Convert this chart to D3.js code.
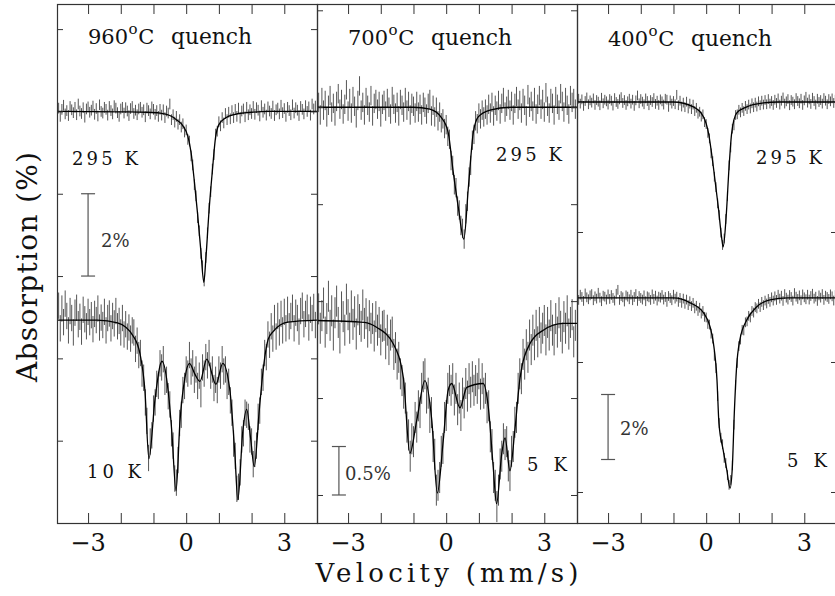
<!DOCTYPE html>
<html><head><meta charset="utf-8">
<script src="https://cdn.jsdelivr.net/npm/d3@7/dist/d3.min.js"></script>
<style>html,body{margin:0;padding:0;background:#fff;}svg{display:block;}</style>
</head><body>
<svg id="chart" width="835" height="596"></svg>
<script>
// ================= DATA =================
const quenchTemperatures = ["960", "700", "400"];
const measureLabels = [["295 K", "10 K"], ["295 K", "5 K"], ["295 K", "5 K"]];
const velocityTicks = [-3, -2, -1, 0, 1, 2, 3];
const velocityLabelTicks = [-3, 0, 3];
const scaleBarPercents = [2, 0.5, 2];
const scaleBarLabels = ["2%", "0.5%", "2%"];
const channelStart = -3.9, channelStep = 0.05;   // velocity channels (mm/s)

// 960 C quench, 295 K
const fit960RT = [[-3.95,0],[-2,-0.01],[-1.2,-0.02],[-0.8,-0.04],[-0.5,-0.1],[-0.3,-0.2],[-0.1,-0.35],[0.05,-0.6],[0.15,-1.0],[0.25,-1.7],[0.35,-2.5],[0.45,-3.4],[0.54,-4.15],[0.6,-3.6],[0.7,-2.4],[0.8,-1.45],[0.9,-0.62],[1.0,-0.32],[1.2,-0.16],[1.5,-0.07],[2,-0.02],[2.5,0],[4,0]];
const data960RT = [
0.08,-0.12,0.05,0.15,-0.06,0.02,-0.10,0.12,0.04,-0.03,
0.10,-0.08,0.18,0.01,-0.05,0.09,-0.14,0.06,0.11,-0.02,
0.03,0.13,-0.07,0.07,-0.11,0.16,0.00,-0.04,0.10,0.05,
-0.09,0.12,0.02,-0.06,0.14,0.08,-0.03,-0.12,0.06,0.10,
-0.04,0.09,0.01,-0.10,0.07,0.12,-0.05,0.03,-0.08,0.06,
0.10,-0.02,0.04,-0.13,0.08,0.02,-0.06,0.11,0.05,-0.07,
0.02,-0.12,0.05,-0.09,0.04,-0.15,0.01,-0.04,0.18,-0.20,
-0.08,-0.26,-0.12,-0.31,-0.20,-0.38,-0.30,-0.50,-0.45,-0.68,
-0.72,-1.08,-1.30,-1.78,-2.05,-2.58,-2.90,-3.45,-3.75,-4.12,
-3.55,-2.95,-2.35,-1.95,-1.40,-1.05,-0.55,-0.48,-0.25,-0.35,
-0.15,-0.28,-0.05,-0.20,-0.02,-0.18,0.02,-0.15,0.05,-0.12,
0.08,-0.16,0.01,0.06,-0.13,0.10,-0.08,0.04,-0.05,0.12,
-0.07,0.09,0.03,-0.11,0.14,-0.02,0.06,-0.09,0.11,0.01,
-0.05,0.13,-0.10,0.04,0.08,-0.06,0.15,-0.03,0.07,-0.12,
0.10,0.02,-0.08,0.16,-0.04,0.09,0.03,-0.10,0.12,0.05,
-0.06,0.14,0.00,0.11,-0.09,0.18,0.06,0.13];

// 960 C quench, 10 K
const fit960LT = [[-3.95,0],[-2.72,0],[-2.1,-0.07],[-1.62,-0.39],[-1.41,-0.83],[-1.26,-1.73],[-1.14,-3.37],[-0.95,-1.9],[-0.74,-1.0],[-0.55,-1.73],[-0.44,-2.7],[-0.31,-4.15],[-0.19,-2.46],[-0.04,-1.41],[0.1,-1.05],[0.27,-1.32],[0.42,-1.49],[0.63,-0.95],[0.91,-1.56],[1.12,-1.05],[1.34,-1.73],[1.49,-3.27],[1.58,-4.37],[1.73,-2.71],[1.85,-2.17],[1.97,-2.87],[2.08,-3.56],[2.24,-2.14],[2.36,-1.17],[2.51,-0.46],[2.67,-0.27],[3.1,-0.05],[4,0]];
const data960LT = [
0.35,-0.20,0.28,-0.05,0.40,0.10,-0.25,0.22,0.05,-0.30,
0.18,0.30,-0.10,0.08,-0.28,0.25,0.02,-0.15,0.20,-0.05,
0.12,-0.22,0.15,0.00,0.28,-0.18,0.06,-0.12,0.20,-0.25,
0.05,0.16,-0.20,0.10,-0.08,0.22,-0.15,-0.02,-0.30,0.05,
-0.35,-0.10,-0.40,-0.18,-0.45,-0.25,-0.30,-0.70,-0.50,-0.85,
-0.80,-1.30,-1.40,-2.00,-2.45,-3.35,-2.95,-2.80,-2.15,-2.00,
-1.55,-1.60,-1.05,-1.15,-0.95,-1.50,-1.45,-1.85,-2.05,-2.75,
-3.05,-3.85,-3.95,-3.40,-2.50,-2.30,-1.70,-1.60,-1.20,-1.30,
-0.85,-1.25,-1.05,-1.45,-1.20,-1.60,-1.35,-1.80,-1.15,-1.30,
-0.90,-1.10,-0.80,-1.35,-1.20,-1.65,-1.45,-1.70,-1.20,-1.35,
-0.95,-1.25,-1.20,-1.60,-1.50,-1.95,-2.25,-3.00,-3.30,-4.10,
-4.05,-3.70,-2.90,-2.75,-2.25,-2.30,-2.35,-2.90,-2.95,-3.50,
-3.25,-3.05,-2.35,-2.20,-1.50,-1.40,-0.80,-0.90,-0.35,-0.60,
-0.15,-0.45,0.05,-0.40,0.10,-0.30,0.15,-0.25,0.20,-0.20,
0.25,-0.15,0.10,0.30,-0.20,0.18,0.05,-0.28,0.22,0.35,
-0.10,0.15,0.30,-0.18,0.25,0.05,0.32,-0.12];

// 700 C quench, 295 K
const fit700RT = [[-3.95,0],[-1,0],[-0.5,-0.02],[-0.14,-0.11],[0.06,-0.26],[0.22,-0.68],[0.37,-1.03],[0.54,-1.36],[0.68,-0.82],[0.83,-0.26],[0.98,-0.1],[1.34,-0.03],[2,0],[4,0]];
const data700RT = [
0.05,-0.08,0.10,-0.03,0.07,-0.10,0.02,0.12,-0.05,0.04,
-0.09,0.06,0.14,-0.02,0.08,-0.07,0.03,0.18,-0.04,0.09,
-0.06,0.11,0.01,-0.11,0.07,0.22,-0.03,0.05,-0.08,0.10,
0.02,-0.05,0.12,-0.09,0.04,0.08,-0.02,0.06,-0.10,0.03,
0.07,-0.04,0.09,0.00,-0.07,0.11,0.03,-0.06,0.05,-0.09,
0.08,0.02,-0.05,0.10,-0.03,0.06,-0.08,0.04,0.01,-0.06,
0.06,-0.05,0.03,-0.08,0.05,0.00,-0.07,0.04,0.08,-0.09,
0.02,-0.10,0.00,-0.14,-0.05,-0.16,-0.12,-0.22,-0.18,-0.30,
-0.33,-0.55,-0.60,-0.80,-0.83,-1.02,-1.06,-1.22,-1.25,-1.36,
-1.10,-0.97,-0.72,-0.60,-0.34,-0.28,-0.14,-0.17,-0.06,-0.12,
-0.03,-0.10,-0.02,-0.08,0.03,-0.06,0.05,-0.09,0.02,-0.04,
0.07,-0.07,0.04,0.10,-0.05,0.01,0.08,-0.03,0.06,-0.08,
0.04,0.11,-0.02,0.07,-0.06,0.09,0.02,-0.09,0.13,0.00,
0.06,-0.04,0.10,-0.07,0.03,0.12,-0.02,0.08,-0.05,0.15,
0.01,-0.06,0.09,0.04,-0.08,0.11,0.03,-0.03,0.14,0.06,
-0.05,0.10,0.02,-0.07,0.12,0.05,0.09,-0.02];

// 700 C quench, 5 K
const fit700LT = [[-3.95,0],[-2.5,-0.02],[-2.13,-0.07],[-1.62,-0.24],[-1.31,-0.59],[-1.11,-1.37],[-0.9,-1.03],[-0.65,-0.62],[-0.44,-1.03],[-0.27,-1.78],[-0.09,-1.24],[0.06,-0.72],[0.17,-0.65],[0.42,-0.9],[0.63,-0.69],[1.13,-0.65],[1.29,-0.9],[1.44,-1.52],[1.54,-1.89],[1.7,-1.37],[1.8,-1.21],[1.95,-1.55],[2.1,-1.13],[2.26,-0.59],[2.56,-0.24],[2.97,-0.1],[3.58,-0.03],[4,-0.03]];
const data700LT = [
0.12,-0.08,0.05,0.18,-0.12,0.02,0.25,-0.05,0.10,-0.15,
0.08,0.20,-0.02,-0.18,0.14,0.04,-0.10,0.22,0.06,-0.08,
0.15,-0.04,0.09,-0.14,0.11,0.01,-0.06,0.16,-0.03,0.07,
-0.12,0.05,-0.08,0.02,-0.16,0.04,-0.10,-0.02,-0.20,-0.06,
-0.05,-0.24,-0.10,-0.30,-0.15,-0.12,-0.35,-0.28,-0.45,-0.38,
-0.55,-0.62,-0.75,-0.80,-1.10,-1.18,-1.40,-1.22,-1.25,-1.00,
-1.10,-0.88,-0.95,-0.70,-0.58,-0.55,-0.80,-0.75,-1.00,-0.95,
-1.30,-1.38,-1.75,-1.70,-1.62,-1.35,-1.32,-1.00,-0.98,-0.70,
-0.62,-0.72,-0.60,-0.82,-0.70,-0.92,-0.80,-0.98,-0.75,-0.85,
-0.65,-0.78,-0.60,-0.74,-0.58,-0.72,-0.62,-0.70,-0.55,-0.76,
-0.60,-0.75,-0.70,-0.90,-0.88,-1.20,-1.28,-1.62,-1.70,-1.92,
-1.75,-1.48,-1.40,-1.22,-1.28,-1.25,-1.50,-1.60,-1.35,-1.30,
-1.05,-1.00,-0.70,-0.55,-0.60,-0.35,-0.45,-0.25,-0.38,-0.15,
-0.30,-0.10,-0.25,-0.05,-0.22,-0.02,-0.18,-0.08,0.00,-0.20,
-0.02,-0.15,0.05,-0.10,-0.20,0.02,-0.12,0.08,-0.06,-0.18,
0.04,-0.08,0.10,-0.14,-0.02,0.06,-0.22,-0.05];

// 400 C quench, 295 K
const fit400RT = [[-3.95,0],[-1,0],[-0.39,-0.15],[-0.08,-0.46],[0.07,-0.95],[0.22,-2.0],[0.37,-3.23],[0.47,-4.15],[0.52,-4.46],[0.61,-3.54],[0.7,-2.0],[0.78,-0.95],[0.93,-0.34],[1.24,-0.15],[1.75,-0.03],[2.2,0],[4,0]];
const data400RT = [
0.10,-0.05,0.08,-0.12,0.03,0.14,-0.07,0.05,-0.02,0.11,
-0.09,0.06,0.01,-0.10,0.13,-0.04,0.07,0.02,-0.08,0.09,
0.04,-0.11,0.12,0.00,-0.06,0.08,0.15,-0.03,0.06,-0.09,
0.02,0.10,-0.05,0.07,-0.12,0.05,0.20,-0.04,0.09,0.01,
-0.07,0.11,0.03,-0.10,0.06,0.00,0.12,-0.06,0.04,-0.09,
0.08,0.02,-0.08,0.10,0.07,-0.15,0.05,-0.05,0.03,-0.07,
0.22,-0.10,0.04,-0.14,-0.02,-0.16,0.01,-0.20,-0.05,-0.22,
-0.08,-0.28,-0.18,-0.36,-0.30,-0.45,-0.38,-0.62,-0.68,-0.95,
-1.12,-1.58,-1.82,-2.30,-2.62,-3.12,-3.48,-4.02,-4.40,-4.20,
-3.60,-2.90,-1.95,-1.40,-0.82,-0.72,-0.40,-0.38,-0.24,-0.32,
-0.18,-0.28,-0.12,-0.22,-0.08,-0.20,-0.04,-0.16,-0.02,-0.14,
0.02,-0.10,0.04,-0.08,0.06,-0.07,0.09,-0.05,0.03,-0.09,
0.07,-0.03,0.11,-0.08,0.04,0.14,-0.05,0.02,0.09,-0.10,
0.06,0.01,-0.07,0.12,0.03,-0.04,0.10,-0.09,0.05,0.16,
-0.02,0.08,-0.06,0.13,0.03,-0.08,0.10,0.00,0.06,-0.05,
0.12,0.04,-0.07,0.09,0.02,0.11,-0.03,0.07];

// 400 C quench, 5 K
const fit400LT = [[-3.95,0],[-1,0],[-0.49,-0.15],[-0.08,-0.46],[0.12,-0.89],[0.22,-1.38],[0.33,-2.52],[0.39,-3.85],[0.52,-4.68],[0.63,-5.29],[0.73,-5.85],[0.8,-5.2],[0.86,-3.54],[0.93,-2.12],[1.03,-1.29],[1.24,-0.68],[1.54,-0.28],[1.95,-0.06],[2.5,0],[4,0]];
const data400LT = [
-0.06,0.10,0.03,-0.09,0.14,0.02,-0.04,0.08,0.12,-0.07,
0.05,-0.02,0.16,0.01,-0.10,0.07,0.04,-0.05,0.11,-0.03,
0.09,0.00,-0.08,0.13,0.25,-0.06,0.06,0.02,-0.11,0.08,
0.04,-0.04,0.10,-0.07,0.03,0.12,-0.09,0.06,0.00,-0.05,
0.08,-0.10,0.05,0.02,-0.06,0.11,-0.03,0.07,-0.08,0.04,
0.01,0.09,-0.05,0.03,-0.12,0.06,0.00,-0.07,0.10,-0.02,
0.04,-0.12,0.00,-0.15,-0.02,-0.18,-0.05,-0.22,-0.10,-0.25,
-0.15,-0.32,-0.24,-0.40,-0.30,-0.48,-0.40,-0.58,-0.60,-0.80,
-0.82,-1.10,-1.25,-1.78,-2.16,-3.02,-3.85,-4.30,-4.50,-4.92,
-5.08,-5.45,-5.75,-5.60,-5.15,-3.90,-2.68,-2.00,-1.48,-1.28,
-0.98,-1.00,-0.75,-0.72,-0.55,-0.60,-0.40,-0.45,-0.28,-0.32,
-0.18,-0.28,-0.12,-0.22,-0.08,-0.17,-0.03,-0.12,0.02,-0.08,
0.05,-0.06,0.10,-0.02,0.07,-0.09,0.12,0.01,-0.05,0.09,
0.03,-0.08,0.15,0.04,-0.03,0.08,-0.07,0.11,0.02,-0.04,
0.10,-0.05,0.06,0.13,-0.02,0.04,-0.09,0.08,0.01,0.12,
-0.06,0.07,0.03,-0.03,0.11,0.05,-0.08,0.09];

// per-spectrum error-bar half length (%) and stacking offset (%)
const errorHalfWidths = [[0.13, 0.32], [0.10, 0.16], [0.15, 0.15]];
const stackOffsets = [[0, -5.07], [0, -2.2], [0, -6.03]];

// ================= LAYOUT =================
const FONT = "'DejaVu Serif', 'Liberation Serif', serif";
const INK = "#111";
const plotTop = 4, plotBottom = 523, panelWidth = 260;
const panelLefts = [57, 317, 577];
const velocityDomain = [-3.95, 4.0];
const panelYDomains = [[2.61, -10.0], [1.065, -4.289], [3.015, -12.954]];
const panelYTicks = [[2, 0, -2, -4, -6, -8], [1, 0, -1, -2, -3, -4], [0, -4, -8, -12]];
const titleBaselines = [44, 45, 46];
const tempLabelPos = [[[15, 165, 66], [30, 478, 54]], [[179, 161, 66], [210, 471, 40]], [[179, 164, 66], [210, 467, 40]]];
const scaleBarSpec = [{v: -3, top: -2, lab: [44, 247]}, {v: -3.28, top: -3.5, lab: [28, 480]}, {v: -3, top: -9, lab: [43, 435]}];

const spectra = [
  [{fit: fit960RT, data: data960RT}, {fit: fit960LT, data: data960LT}],
  [{fit: fit700RT, data: data700RT}, {fit: fit700LT, data: data700LT}],
  [{fit: fit400RT, data: data400RT}, {fit: fit400LT, data: data400LT}]
];

const svg = d3.select("#chart");
svg.append("rect").attr("width", 835).attr("height", 596).attr("fill", "#fff");
const defs = svg.append("defs");

panelLefts.forEach((x0, k) => {
  const x = d3.scaleLinear().domain(velocityDomain).range([x0, x0 + panelWidth]);
  const y = d3.scaleLinear().domain(panelYDomains[k]).range([plotTop, plotBottom]);
  const g = svg.append("g");

  defs.append("clipPath").attr("id", "clip" + k)
    .append("rect").attr("x", x0).attr("y", plotTop).attr("width", panelWidth).attr("height", plotBottom - plotTop);
  const pg = g.append("g").attr("clip-path", `url(#clip${k})`);

  spectra[k].forEach((s, j) => {
    const off = stackOffsets[k][j], err = errorHalfWidths[k][j];
    const pts = s.data.map((d, i) => ({v: channelStart + i * channelStep, a: d}));
    pg.append("g").selectAll("line").data(pts).join("line")
      .attr("x1", d => x(d.v)).attr("x2", d => x(d.v))
      .attr("y1", d => y(d.a + off + err)).attr("y2", d => y(d.a + off - err))
      .attr("stroke", "#555").attr("stroke-width", 1);
    pg.append("path").datum(s.fit)
      .attr("d", d3.line().x(d => x(d[0])).y(d => y(d[1] + off)).curve(d3.curveMonotoneX))
      .attr("fill", "none").attr("stroke", "#000").attr("stroke-width", 1.3);
  });

  // axes ticks (inward)
  const clean = a => { a.select(".domain").remove(); a.selectAll("line").attr("stroke", "#333"); a.selectAll("text").remove(); };
  g.append("g").attr("transform", `translate(0,${plotBottom})`)
    .call(d3.axisBottom(x).tickValues(velocityTicks).tickSize(-10)).call(clean);
  g.append("g").attr("transform", `translate(0,${plotTop})`)
    .call(d3.axisTop(x).tickValues(velocityTicks).tickSize(-10)).call(clean);
  g.append("g").attr("transform", `translate(${x0},0)`)
    .call(d3.axisLeft(y).tickValues(panelYTicks[k]).tickSize(-6)).call(clean);
  g.append("g").attr("transform", `translate(${x0 + panelWidth},0)`)
    .call(d3.axisRight(y).tickValues(panelYTicks[k]).tickSize(-6)).call(clean);

  // frame
  g.append("rect").attr("x", x0 + 0.5).attr("y", plotTop + 0.5)
    .attr("width", panelWidth).attr("height", plotBottom - plotTop)
    .attr("fill", "none").attr("stroke", "#333").attr("stroke-width", 1.2);

  // velocity tick labels
  g.selectAll("text.vt").data(velocityLabelTicks).join("text").attr("class", "vt")
    .attr("x", d => x(d)).attr("y", 551).attr("text-anchor", "middle")
    .attr("font-family", FONT).attr("font-size", 24).attr("fill", INK)
    .text(d => d < 0 ? "\u2212" + Math.abs(d) : String(d));

  // title
  const t = g.append("text").attr("x", x0 + 31).attr("y", titleBaselines[k])
    .attr("font-family", FONT).attr("font-size", 21).attr("fill", INK);
  t.append("tspan").text(quenchTemperatures[k]);
  t.append("tspan").attr("font-size", 15).attr("dy", -10).attr("dx", 0.5).text("o");
  t.append("tspan").attr("dy", 10).attr("dx", 0.5).text("C");
  g.append("text").attr("x", x0 + 114).attr("y", titleBaselines[k])
    .attr("font-family", FONT).attr("font-size", 22).attr("fill", INK)
    .attr("textLength", 81).attr("lengthAdjust", "spacingAndGlyphs").text("quench");

  // temperature labels
  measureLabels[k].forEach((lab, j) => {
    const p = tempLabelPos[k][j];
    g.append("text").attr("x", x0 + p[0]).attr("y", p[1])
      .attr("font-family", FONT).attr("font-size", 18).attr("fill", INK)
      .attr("textLength", p[2]).attr("lengthAdjust", "spacing").text(lab);
  });

  // scale bar
  const sb = scaleBarSpec[k];
  const bx = x(sb.v), by1 = y(sb.top), by2 = y(sb.top - scaleBarPercents[k]);
  const bar = g.append("g").attr("stroke", "#555").attr("stroke-width", 1.2);
  bar.append("line").attr("x1", bx).attr("x2", bx).attr("y1", by1).attr("y2", by2);
  bar.append("line").attr("x1", bx - 7).attr("x2", bx + 7).attr("y1", by1).attr("y2", by1);
  bar.append("line").attr("x1", bx - 7).attr("x2", bx + 7).attr("y1", by2).attr("y2", by2);
  g.append("text").attr("x", x0 + sb.lab[0]).attr("y", sb.lab[1])
    .attr("font-family", FONT).attr("font-size", 18).attr("fill", "#333")
    .text(scaleBarLabels[k]);
});

// axis titles
svg.append("text").attr("x", 447).attr("y", 582).attr("text-anchor", "middle")
  .attr("font-family", FONT).attr("font-size", 26).attr("fill", INK)
  .attr("textLength", 263).attr("lengthAdjust", "spacing").text("Velocity (mm/s)");
svg.append("text").attr("transform", "translate(37,267) rotate(-90)").attr("text-anchor", "middle")
  .attr("font-family", FONT).attr("font-size", 28).attr("fill", INK)
  .attr("textLength", 230).attr("lengthAdjust", "spacing").text("Absorption (%)");
</script>
</body></html>
